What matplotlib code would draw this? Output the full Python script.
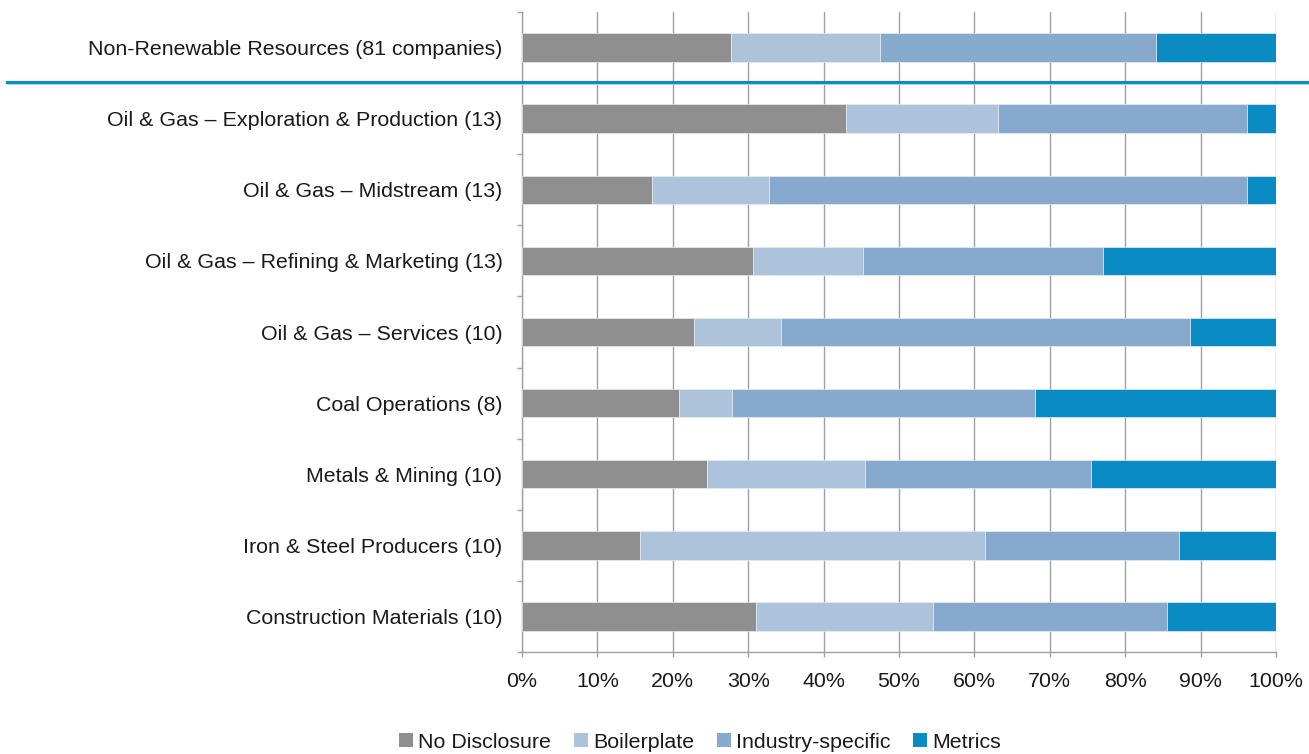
import matplotlib
matplotlib.use("Agg")
import matplotlib.pyplot as plt
from matplotlib.lines import Line2D
from matplotlib.patches import Patch
from matplotlib.transforms import ScaledTranslation
import numpy as np

plt.rcParams['font.family'] = ['Liberation Sans', 'DejaVu Sans']

categories = [
    "Non-Renewable Resources (81 companies)",
    "Oil & Gas \u2013 Exploration & Production (13)",
    "Oil & Gas \u2013 Midstream (13)",
    "Oil & Gas \u2013 Refining & Marketing (13)",
    "Oil & Gas \u2013 Services (10)",
    "Coal Operations (8)",
    "Metals & Mining (10)",
    "Iron & Steel Producers (10)",
    "Construction Materials (10)",
]

no_disclosure = [27.7, 43.0, 17.2, 30.7, 22.8, 20.8, 24.5, 15.7, 31.1]
boilerplate = [19.8, 20.1, 15.5, 14.5, 11.6, 7.1, 21.0, 45.7, 23.4]
industry_specific = [36.6, 33.1, 63.5, 31.8, 54.2, 40.2, 30.0, 25.8, 31.1]
metrics = [15.9, 3.8, 3.8, 23.0, 11.4, 31.9, 24.5, 12.8, 14.4]

series = [
    ("No Disclosure", no_disclosure, "#8f8f8f"),
    ("Boilerplate", boilerplate, "#adc3dc"),
    ("Industry-specific", industry_specific, "#86a9cd"),
    ("Metrics", metrics, "#0a8bc4"),
]

FS = 15.4
W, H = 1309, 754
fig = plt.figure(figsize=(W / 100, H / 100), dpi=100)
ax = fig.add_axes([522 / W, 1 - 652 / H, (1276 - 522) / W, (652 - 12) / H])

y = np.arange(len(categories))
left = np.zeros(len(categories))
for name, vals, color in series:
    vals = np.array(vals)
    ax.barh(y, vals, left=left, height=0.4, color=color,
            edgecolor="#e6ecf2", linewidth=0.5, zorder=3, label=name)
    left += vals

ax.set_xlim(0, 100)
ax.set_ylim(len(categories) - 0.5, -0.5)

ax.set_xticks(np.arange(0, 101, 10))
ax.set_xticklabels([f"{v}%" for v in range(0, 101, 10)], fontsize=FS, color="#1a1a1a")
ax.set_yticks(y)
ax.set_yticklabels(categories, fontsize=FS, color="#1a1a1a")
ax.set_yticks(np.arange(-0.5, len(categories), 1), minor=True)
shift = ScaledTranslation(0, -2.5 / 100, fig.dpi_scale_trans)
for lbl in ax.get_yticklabels():
    lbl.set_verticalalignment("center_baseline")
    lbl.set_transform(lbl.get_transform() + shift)

ax.tick_params(axis="y", which="major", length=0, pad=14)
ax.tick_params(axis="y", which="minor", length=3.6, color="#a0a0a0", width=1)
ax.tick_params(axis="x", which="major", length=3.6, color="#a0a0a0", width=1, pad=11)

ax.grid(axis="x", color="#a0a0a0", linewidth=1.0, zorder=0)
ax.set_axisbelow(True)
for side in ("top", "right"):
    ax.spines[side].set_visible(False)
for side in ("left", "bottom"):
    ax.spines[side].set_color("#a0a0a0")
    ax.spines[side].set_linewidth(1.0)

# separator between the sector total and its industries
fig.add_artist(Line2D([7 / W, 1], [1 - 82.3 / H] * 2, color="#0a8bc4", linewidth=2.2))
fig.add_artist(Line2D([7 / W, 1], [1 - 84.2 / H] * 2, color="#a8d4ea", linewidth=0.7))

handles = [Patch(facecolor=c, edgecolor="none", label=n) for n, _, c in series]
fig.legend(handles=handles, loc="center", bbox_to_anchor=(700 / W, 1 - 742 / H),
           ncol=4, frameon=False, fontsize=FS, handlelength=0.65, handleheight=0.65,
           handletextpad=0.25, columnspacing=1.05, borderaxespad=0, borderpad=0,
           labelcolor="#1a1a1a")

fig.savefig("out.png", dpi=100, facecolor="white")
